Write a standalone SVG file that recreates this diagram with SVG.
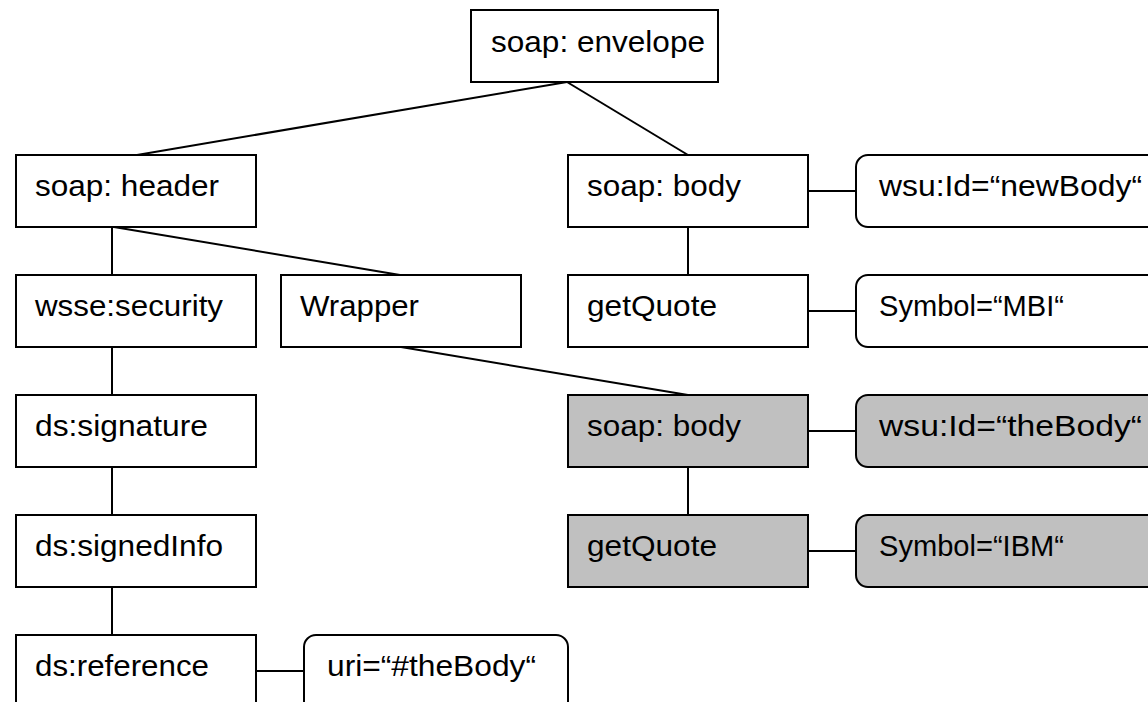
<svg xmlns="http://www.w3.org/2000/svg" width="1148" height="702" viewBox="0 0 1148 702">
<style>
.box{fill:#ffffff;stroke:#000000;stroke-width:2}
.grey{fill:#c0c0c0}
.t{font-family:"Liberation Sans",Arial,Helvetica,sans-serif;font-size:29px;fill:#000000}
.c{stroke:#000000;stroke-width:2;fill:none}
</style>
<rect width="1148" height="702" fill="#ffffff"/>
<g id="connectors">
<line class="c" x1="567" y1="82" x2="137" y2="155"/>
<line class="c" x1="567" y1="82" x2="688" y2="155"/>
<line class="c" x1="112" y1="227" x2="112" y2="275"/>
<line class="c" x1="114" y1="227" x2="400" y2="275"/>
<line class="c" x1="112" y1="347" x2="112" y2="395"/>
<line class="c" x1="112" y1="467" x2="112" y2="515"/>
<line class="c" x1="112" y1="587" x2="112" y2="635"/>
<line class="c" x1="256" y1="671" x2="304" y2="671"/>
<line class="c" x1="688" y1="227" x2="688" y2="275"/>
<line class="c" x1="808" y1="191" x2="856" y2="191"/>
<line class="c" x1="808" y1="311" x2="856" y2="311"/>
<line class="c" x1="401" y1="347" x2="688" y2="395"/>
<line class="c" x1="688" y1="467" x2="688" y2="515"/>
<line class="c" x1="808" y1="431" x2="856" y2="431"/>
<line class="c" x1="808" y1="551" x2="856" y2="551"/>
</g>
<g id="envelope"><rect class="box" x="471" y="10" width="247" height="72"/><text class="t" x="491" y="52" textLength="214" lengthAdjust="spacingAndGlyphs">soap: envelope</text></g>
<g id="header"><rect class="box" x="16" y="155" width="240" height="72"/><text class="t" x="35" y="196" textLength="184" lengthAdjust="spacingAndGlyphs">soap: header</text></g>
<g id="body1"><rect class="box" x="568" y="155" width="240" height="72"/><text class="t" x="587" y="196" textLength="154" lengthAdjust="spacingAndGlyphs">soap: body</text></g>
<g id="newBody"><rect class="box" x="856" y="155" width="310" height="72" rx="12" ry="12"/><text class="t" x="879" y="196" textLength="263" lengthAdjust="spacingAndGlyphs">wsu:Id=“newBody“</text></g>
<g id="security"><rect class="box" x="16" y="275" width="240" height="72"/><text class="t" x="35" y="316" textLength="188" lengthAdjust="spacingAndGlyphs">wsse:security</text></g>
<g id="wrapper"><rect class="box" x="281" y="275" width="240" height="72"/><text class="t" x="300" y="316" textLength="119" lengthAdjust="spacingAndGlyphs">Wrapper</text></g>
<g id="getQuote1"><rect class="box" x="568" y="275" width="240" height="72"/><text class="t" x="587" y="316" textLength="130" lengthAdjust="spacingAndGlyphs">getQuote</text></g>
<g id="symbolMBI"><rect class="box" x="856" y="275" width="310" height="72" rx="12" ry="12"/><text class="t" x="879" y="316" textLength="185" lengthAdjust="spacingAndGlyphs">Symbol=“MBI“</text></g>
<g id="signature"><rect class="box" x="16" y="395" width="240" height="72"/><text class="t" x="35" y="436" textLength="173" lengthAdjust="spacingAndGlyphs">ds:signature</text></g>
<g id="body2"><rect class="box grey" x="568" y="395" width="240" height="72"/><text class="t" x="587" y="436" textLength="154" lengthAdjust="spacingAndGlyphs">soap: body</text></g>
<g id="theBody"><rect class="box grey" x="856" y="395" width="310" height="72" rx="12" ry="12"/><text class="t" x="879" y="436" textLength="263" lengthAdjust="spacingAndGlyphs">wsu:Id=“theBody“</text></g>
<g id="signedInfo"><rect class="box" x="16" y="515" width="240" height="72"/><text class="t" x="35" y="556" textLength="188" lengthAdjust="spacingAndGlyphs">ds:signedInfo</text></g>
<g id="getQuote2"><rect class="box grey" x="568" y="515" width="240" height="72"/><text class="t" x="587" y="556" textLength="130" lengthAdjust="spacingAndGlyphs">getQuote</text></g>
<g id="symbolIBM"><rect class="box grey" x="856" y="515" width="310" height="72" rx="12" ry="12"/><text class="t" x="879" y="556" textLength="185" lengthAdjust="spacingAndGlyphs">Symbol=“IBM“</text></g>
<g id="reference"><rect class="box" x="16" y="635" width="240" height="80"/><text class="t" x="35" y="676" textLength="174" lengthAdjust="spacingAndGlyphs">ds:reference</text></g>
<g id="uri"><rect class="box" x="304" y="635" width="264" height="80" rx="12" ry="12"/><text class="t" x="327" y="676" textLength="209" lengthAdjust="spacingAndGlyphs">uri=“#theBody“</text></g>
</svg>
